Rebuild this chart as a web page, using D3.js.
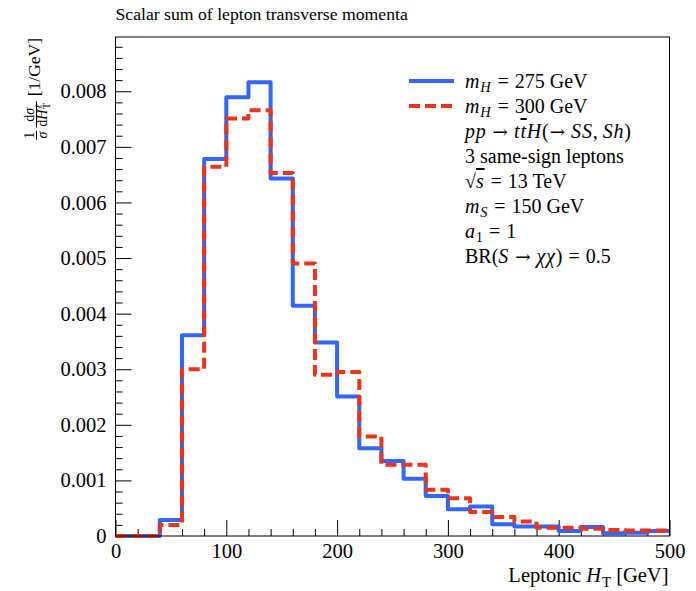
<!DOCTYPE html>
<html><head><meta charset="utf-8">
<script src="https://cdn.jsdelivr.net/npm/d3@7"></script>
<style>
body{margin:0;background:#fff}
svg{display:block}
text{font-family:"Liberation Serif","Times New Roman",serif;fill:#000}
</style>
</head><body>
<svg id="c" width="696" height="591"></svg>
<script>
// ---------------- data ----------------
const binEdges = d3.range(0, 501, 20);           // 0..500 GeV, 20 GeV bins
const mH275 = [0, 0, 0.00029, 0.00361, 0.00678, 0.00789, 0.00816, 0.00643, 0.00414, 0.00348,
               0.00251, 0.00158, 0.00135, 0.00103, 0.00072, 0.00048, 0.00053, 0.00021, 0.00017, 0.00017,
               0.00009, 0.00016, 0.00005, 0.00006, 0.00009];
const mH300 = [0, 0, 0.00020, 0.00300, 0.00664, 0.00751, 0.00766, 0.00653, 0.00490, 0.00290,
               0.00295, 0.00179, 0.00128, 0.00128, 0.00083, 0.00068, 0.00043, 0.00034, 0.00026, 0.00015,
               0.00015, 0.00013, 0.00011, 0.00010, 0.00010];
const xTicks = [0, 100, 200, 300, 400, 500];
const xMinor = d3.range(20, 500, 20).filter(v => v % 100 !== 0);
const yTicks = [0, 0.001, 0.002, 0.003, 0.004, 0.005, 0.006, 0.007, 0.008];
const yMinor = d3.range(1, 45).map(i => i * 0.0002).filter((v, i) => (i + 1) % 5 !== 0);
const seriesNames = ["mH275", "mH300"];
const legendRows = [
  [["m","i"],["H","ib"],["=","r"],["275 GeV"]],
  [["m","i"],["H","ib"],["=","r"],["300 GeV"]],
  [["pp","i"],["→","ra"],["t","i"],["t","io"],["H","i"],["("],["→","Ra"],["SS","i"],[", "],["Sh","i"],[")"]],
  [["3 same-sign leptons"]],
  [["√"],["s","io"],["=","r"],["13 TeV"]],
  [["m","i"],["S","ib"],["=","r"],["150 GeV"]],
  [["a","i"],["1","b"],["=","r"],["1"]],
  [["BR("],["S","i"],["→","ra"],["χχ","i"],[")"],["=","r"],["0.5"]]
];
const titleText = "Scalar sum of lepton transverse momenta";

// ---------------- layout ----------------
const m = {left: 115.5, right: 669.5, top: 37, bottom: 536};
const FS = 20.5, TFS = 17.7, LFS = 20;
const svg = d3.select("#c");

const x = d3.scaleLinear().domain([0, 500]).range([m.left, m.right]);
const yMax = d3.max(mH275.concat(mH300)) * 1.1;
const y = d3.scaleLinear().domain([0, yMax]).range([m.bottom, m.top]);

function rich(sel, parts, size) {
  let shift = 0, padNext = 0;
  parts.forEach(p => {
    const t = p[0], st = p[1] || "";
    const ts = sel.append("tspan").text(t);
    const isSub = st.includes("b"), isSup = st.includes("p");
    const target = isSub ? size * 0.22 : isSup ? -size * 0.4 : 0;
    const dy = target - shift; shift = target;
    if (dy) ts.attr("dy", dy);
    let dx = padNext; padNext = 0;
    if (isSub || isSup) ts.attr("font-size", size * 0.72);
    if (st.includes("i")) ts.attr("font-style", "italic").attr("letter-spacing", size * 0.04);
    if (st.includes("o")) ts.style("text-decoration", "overline");
    if (st.includes("r")) { dx += size * 0.3; padNext = size * 0.3; }
    if (st.includes("R")) { dx += size * 0.05; padNext = size * 0.3; }
    if (st.includes("a")) ts.attr("font-family", '"DejaVu Serif",serif').attr("font-size", size * 0.92);
    if (dx) ts.attr("dx", dx);
  });
}

// title
svg.append("text").attr("x", m.left).attr("y", 20).attr("font-size", TFS).text(titleText);

// axes
const gx = svg.append("g").attr("transform", `translate(0,${m.bottom})`);
gx.call(d3.axisBottom(x).tickValues(xTicks).tickSize(-16).tickPadding(7).tickFormat(d3.format("d")));
const gxm = svg.append("g").attr("transform", `translate(0,${m.bottom})`);
gxm.call(d3.axisBottom(x).tickValues(xMinor).tickSize(-7).tickFormat(""));
const gy = svg.append("g").attr("transform", `translate(${m.left},0)`);
gy.call(d3.axisLeft(y).tickValues(yTicks).tickSize(-16).tickPadding(9)
  .tickFormat(d => d === 0 ? "0" : d3.format(".3f")(d)));
const gym = svg.append("g").attr("transform", `translate(${m.left},0)`);
gym.call(d3.axisLeft(y).tickValues(yMinor).tickSize(-7).tickFormat(""));
[gx, gxm, gy, gym].forEach(g => {
  g.select(".domain").remove();
  g.selectAll("line").attr("stroke", "#000").attr("stroke-width", 1);
  g.selectAll("text").attr("font-size", FS).attr("font-family", '"Liberation Serif",serif');
});

// histogram lines
const line = d3.line().x(d => x(d[0])).y(d => y(d[1])).curve(d3.curveStepAfter);
function pts(vals) {
  const p = vals.map((v, i) => [binEdges[i], v]);
  p.push([binEdges[binEdges.length - 1], vals[vals.length - 1]]);
  return p;
}
const styles = {
  mH275: {color: "#3366ff", dash: null},
  mH300: {color: "#ee3318", dash: "11,5"}
};
const seriesData = {mH275, mH300};
seriesNames.forEach(n => {
  svg.append("path").attr("d", line(pts(seriesData[n])))
    .attr("fill", "none").attr("stroke", styles[n].color).attr("stroke-width", 4)
    .attr("stroke-linejoin", "round").attr("stroke-dasharray", styles[n].dash);
});

// frame
svg.append("rect").attr("x", m.left).attr("y", m.top)
  .attr("width", m.right - m.left).attr("height", m.bottom - m.top)
  .attr("fill", "none").attr("stroke", "#000").attr("stroke-width", 1);

// legend
const lgX = 465, lgY0 = 88, lgDY = 25;
seriesNames.forEach((n, i) => {
  svg.append("line").attr("x1", 409).attr("x2", 454)
    .attr("y1", lgY0 + i * lgDY - 7).attr("y2", lgY0 + i * lgDY - 7)
    .attr("stroke", styles[n].color).attr("stroke-width", 4).attr("stroke-dasharray", styles[n].dash);
});
legendRows.forEach((row, i) => {
  const t = svg.append("text").attr("x", lgX).attr("y", lgY0 + i * lgDY).attr("font-size", LFS)
    .style("white-space", "pre");
  rich(t, row, LFS);
});

// x label
const xl = svg.append("text").attr("x", m.right - 1).attr("y", 582).attr("text-anchor", "end").attr("font-size", FS);
rich(xl, [["Leptonic "],["H","i"],["T","b"],[" [GeV]"]], FS);

// y label (rotated, reads bottom to top, ends at top of frame)
const gl = svg.append("g").attr("transform", `translate(40,${m.top + 1}) rotate(-90)`);
const t1 = gl.append("text").attr("x", 0).attr("y", 0).attr("text-anchor", "end").attr("font-size", 17.5).text("[1/GeV]");
const w1 = t1.node().getComputedTextLength();
const fs = 14;
const barY = -3.5, numY = -6.5, denY = 7;
function frac(endX, numParts, denBuild) {
  const nt = gl.append("text").attr("font-size", fs).attr("y", numY);
  rich(nt, numParts, fs);
  const wn = nt.node().getComputedTextLength();
  const dg = gl.append("g");
  const wd = denBuild(dg);
  const wf = Math.max(wn, wd) + 2;
  const cx = endX - wf / 2;
  nt.attr("x", cx - wn / 2);
  dg.attr("transform", `translate(${cx - wd / 2},0)`);
  gl.append("line").attr("x1", cx - wf / 2).attr("x2", cx + wf / 2)
    .attr("y1", barY).attr("y2", barY).attr("stroke", "#000").attr("stroke-width", 1);
  return wf;
}
const f2 = frac(-(w1 + 5), [["d"],["σ","i"]], g => {
  const a = g.append("text").attr("font-size", fs).attr("y", denY);
  rich(a, [["d"],["H","i"]], fs);
  const wa = a.node().getComputedTextLength();
  const sb = g.append("text").attr("font-size", fs * 0.72).attr("x", wa).attr("y", denY + 2.5).text("T");
  const sp = g.append("text").attr("font-size", fs * 0.72).attr("x", wa + 0.5).attr("y", denY - 5)
    .attr("font-style", "italic").text("ℓ");
  return wa + Math.max(sb.node().getComputedTextLength(), sp.node().getComputedTextLength()) + 0.5;
});
frac(-(w1 + 5 + f2 + 3), [["1"]], g => {
  const a = g.append("text").attr("font-size", fs).attr("y", denY).attr("font-style", "italic").text("σ");
  return a.node().getComputedTextLength();
});
</script>
</body></html>
